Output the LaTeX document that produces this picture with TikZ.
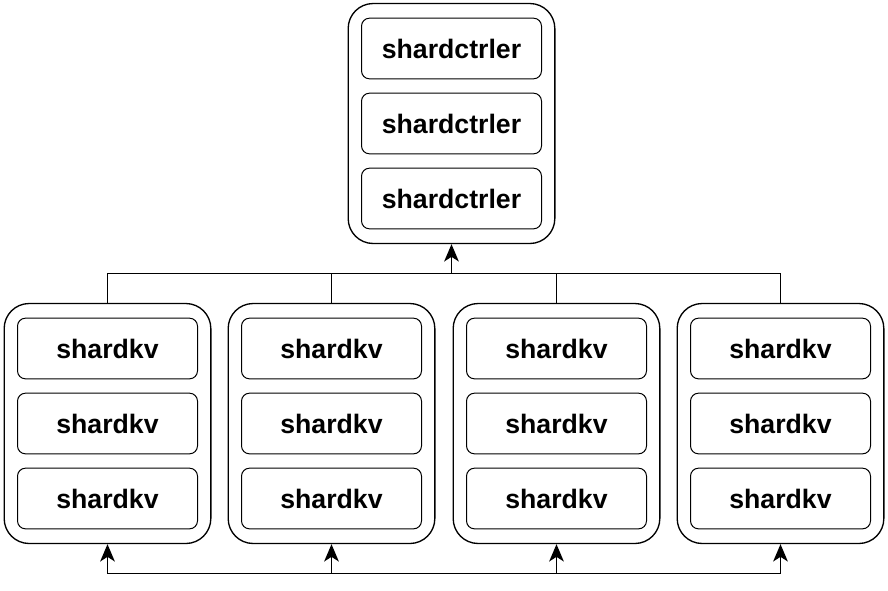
\documentclass[tikz,border=0pt]{standalone}
\usepackage{fontspec}
\setmainfont{Liberation Sans}
\usetikzlibrary{arrows.meta,positioning}
\tikzset{
  group box/.style={draw=black, line width=1pt, rounded corners=18.75pt,
    minimum width=155pt, minimum height=180pt, inner sep=0pt},
  replica box/.style={draw=black, line width=0.75pt, rounded corners=6pt,
    minimum width=135pt, minimum height=45.5pt, inner sep=0pt,
    font=\fontsize{20}{24}\selectfont\bfseries},
  link/.style={line width=1pt},
  push/.style={line width=1pt,
    arrows={-Stealth[length=13pt,width=11pt,inset=3.5pt]}}
}
% one replica group: name, centre x, centre y, label
\newcommand{\shardGroup}[4]{%
  \node[group box] (#1) at (#2,#3) {};%
  \node[replica box] (#1-a) at (#2,#3-75) {#4};%
  \node[replica box] (#1-b) at (#2,#3) {#4};%
  \node[replica box] (#1-c) at (#2,#3+75) {#4};%
}

\begin{document}
\begin{tikzpicture}[x=0.75pt,y=-0.75pt]
  \useasboundingbox (0,0) rectangle (888,590);

  \shardGroup{ctrl}{451.5}{123.5}{shardctrler}

  \shardGroup{kv1}{107.5}{423.5}{shardkv}
  \shardGroup{kv2}{331.5}{423.5}{shardkv}
  \shardGroup{kv3}{556.5}{423.5}{shardkv}
  \shardGroup{kv4}{780.5}{423.5}{shardkv}

  \coordinate (upper bus) at (451.5,273.5);
  \coordinate (lower bus) at (107.5,573.5);

  % groups up to the controller
  \draw[link] (kv1.north) |- (kv4.north |- upper bus) -- (kv4.north);
  \draw[link] (kv2.north) -- (kv2.north |- upper bus);
  \draw[link] (kv3.north) -- (kv3.north |- upper bus);
  \draw[push] (upper bus) -- (ctrl.south);

  % groups among themselves
  \draw[link] (kv1.south |- lower bus) -- (kv4.south |- lower bus);
  \draw[push] (kv1.south |- lower bus) -- (kv1.south);
  \draw[push] (kv2.south |- lower bus) -- (kv2.south);
  \draw[push] (kv3.south |- lower bus) -- (kv3.south);
  \draw[push] (kv4.south |- lower bus) -- (kv4.south);
\end{tikzpicture}
\end{document}
